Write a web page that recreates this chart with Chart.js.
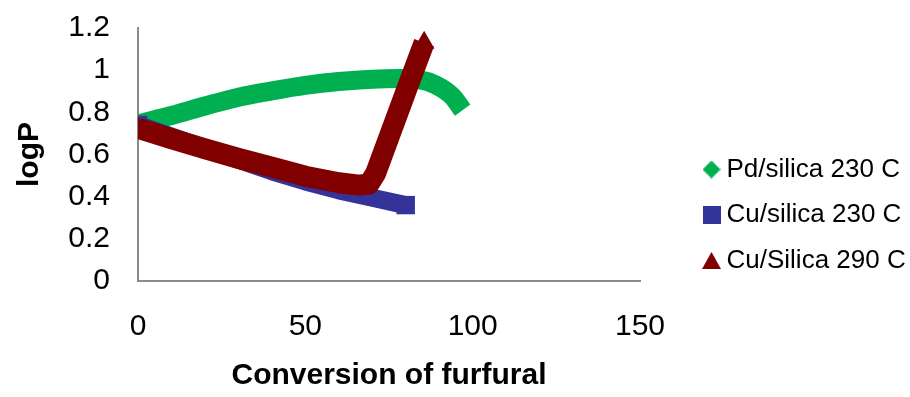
<!DOCTYPE html>
<html>
<head>
<meta charset="utf-8">
<script src="https://cdn.jsdelivr.net/npm/chart.js@4"></script>
<style>
  html, body { margin: 0; padding: 0; background: #fff; }
  #wrap { width: 910px; height: 397px; }
</style>
</head>
<body>
<div id="wrap"><canvas id="c" width="910" height="397"></canvas></div>
<script>
// Series labels
const seriesNames = ['Pd/silica 230 C', 'Cu/silica 230 C', 'Cu/Silica 290 C'];

// Pd/silica at 230 C
const pdX = [0, 5, 10, 20, 30, 40, 50, 60, 70, 78, 84, 89, 94, 97];
const pdY = [0.745, 0.765, 0.785, 0.83, 0.872, 0.902, 0.928, 0.946, 0.957, 0.96, 0.955, 0.93, 0.875, 0.81];

// Cu/silica at 230 C
const cu230X = [0, 10, 20, 30, 40, 50, 60, 70, 80];
const cu230Y = [0.74, 0.685, 0.63, 0.575, 0.52, 0.472, 0.43, 0.395, 0.36];

// Cu/Silica at 290 C
const cu290X = [0, 10, 20, 30, 40, 50, 60, 66, 69, 71, 76, 81, 85.5];
const cu290Y = [0.725, 0.675, 0.627, 0.582, 0.54, 0.497, 0.466, 0.455, 0.46, 0.51, 0.725, 0.94, 1.13];

// Axis tick labels
const xTickLabels = ['0', '50', '100', '150'];
const yTickLabels = ['0', '0.2', '0.4', '0.6', '0.8', '1', '1.2'];

const pts = (xs, ys) => xs.map((x, i) => ({ x: x, y: ys[i] }));
const endsOnly = (xs, r, first, last) => xs.map((_, i) => (i === 0 && first) || (i === xs.length - 1 && last) ? r : 0);

const GREEN = '#00B050';
const BLUE = '#333399';
const RED = '#800000';

// Small marker glyphs for the legend, each with its own size
function markerCanvas(shape, w, h, color) {
  const cv = document.createElement('canvas');
  cv.width = w; cv.height = h;
  const g = cv.getContext('2d');
  g.fillStyle = color;
  g.beginPath();
  if (shape === 'diamond') {
    g.moveTo(w / 2, 0); g.lineTo(w, h / 2); g.lineTo(w / 2, h); g.lineTo(0, h / 2);
  } else if (shape === 'triangle') {
    g.moveTo(w / 2, 0); g.lineTo(w, h); g.lineTo(0, h);
  } else {
    g.rect(0, 0, w, h);
  }
  g.closePath();
  g.fill();
  return cv;
}
const legendMarkers = [
  markerCanvas('diamond', 18, 18, GREEN),
  markerCanvas('square', 18, 18, BLUE),
  markerCanvas('triangle', 19, 17, RED)
];

Chart.defaults.font.family = "'Liberation Sans', Arial, sans-serif";
Chart.defaults.color = '#000';

// Place the legend block to the right of the plot
const legendPlacement = {
  id: 'legendPlacement',
  afterLayout(chart) {
    const lg = chart.legend;
    if (!lg) return;
    lg.left = 690;
    lg.right = 910;
    lg.top = 137;
    lg.bottom = 397;
  }
};

new Chart(document.getElementById('c'), {
  type: 'line',
  data: {
    datasets: [
      {
        label: seriesNames[0],
        data: pts(pdX, pdY),
        borderColor: GREEN,
        backgroundColor: GREEN,
        borderWidth: 19,
        borderCapStyle: 'butt',
        borderJoinStyle: 'round',
        cubicInterpolationMode: 'monotone',
        pointStyle: 'rectRot',
        pointRadius: endsOnly(pdX, 11, false, false),
        pointBackgroundColor: GREEN,
        pointBorderColor: GREEN,
        pointBorderWidth: 0,
        order: 3
      },
      {
        label: seriesNames[1],
        data: pts(cu230X, cu230Y),
        borderColor: BLUE,
        backgroundColor: BLUE,
        borderWidth: 18,
        borderCapStyle: 'butt',
        borderJoinStyle: 'round',
        tension: 0,
        pointStyle: 'rect',
        pointRadius: endsOnly(cu230X, 13, true, true),
        pointBackgroundColor: BLUE,
        pointBorderColor: BLUE,
        pointBorderWidth: 0,
        order: 2
      },
      {
        label: seriesNames[2],
        data: pts(cu290X, cu290Y),
        borderColor: RED,
        backgroundColor: RED,
        borderWidth: 21,
        borderCapStyle: 'butt',
        borderJoinStyle: 'round',
        tension: 0,
        pointStyle: 'triangle',
        pointRadius: endsOnly(cu290X, 12, true, true),
        pointBackgroundColor: RED,
        pointBorderColor: RED,
        pointBorderWidth: 0,
        order: 1
      }
    ]
  },
  options: {
    responsive: false,
    animation: false,
    events: [],
    layout: { padding: { top: 28, right: 70, bottom: 0, left: 0 } },
    scales: {
      x: {
        type: 'linear',
        min: 0,
        max: 150,
        offset: false,
        grid: { display: false, drawTicks: false },
        border: { display: true, color: '#8C8C8C', width: 2 },
        ticks: {
          stepSize: 50,
          padding: 28,
          font: { size: 30 },
          color: '#000',
          callback: (v) => xTickLabels[Math.round(v / 50)]
        },
        title: {
          display: true,
          text: 'Conversion of furfural',
          font: { size: 30, weight: 'bold' },
          color: '#000',
          padding: { top: 0, bottom: 3 }
        },
        afterFit: (scale) => { scale.height = 116; }
      },
      y: {
        type: 'linear',
        min: 0,
        max: 1.2,
        grid: { display: false, drawTicks: false },
        border: { display: true, color: '#8C8C8C', width: 2 },
        ticks: {
          stepSize: 0.2,
          padding: 28,
          font: { size: 30 },
          color: '#000',
          callback: (v) => yTickLabels[Math.round(v / 0.2)]
        },
        title: {
          display: true,
          text: 'logP',
          font: { size: 30, weight: 'bold' },
          color: '#000',
          padding: { top: 12, bottom: 0 }
        },
        afterFit: (scale) => {
          scale.width = 138;
          scale.paddingTop = 0;
          scale.paddingBottom = 0;
        }
      }
    },
    plugins: {
      tooltip: { enabled: false },
      legend: {
        position: 'right',
        align: 'start',
        maxWidth: 200,
        labels: {
          usePointStyle: true,
          boxWidth: 4,
          boxHeight: 15,
          padding: 19.5,
          font: { size: 26 },
          color: '#000',
          sort: (a, b) => a.datasetIndex - b.datasetIndex,
          generateLabels: (chart) => {
            const items = Chart.defaults.plugins.legend.labels.generateLabels(chart);
            items.forEach((it) => { it.pointStyle = legendMarkers[it.datasetIndex]; });
            return items;
          }
        }
      }
    }
  },
  plugins: [legendPlacement]
});
</script>
</body>
</html>
